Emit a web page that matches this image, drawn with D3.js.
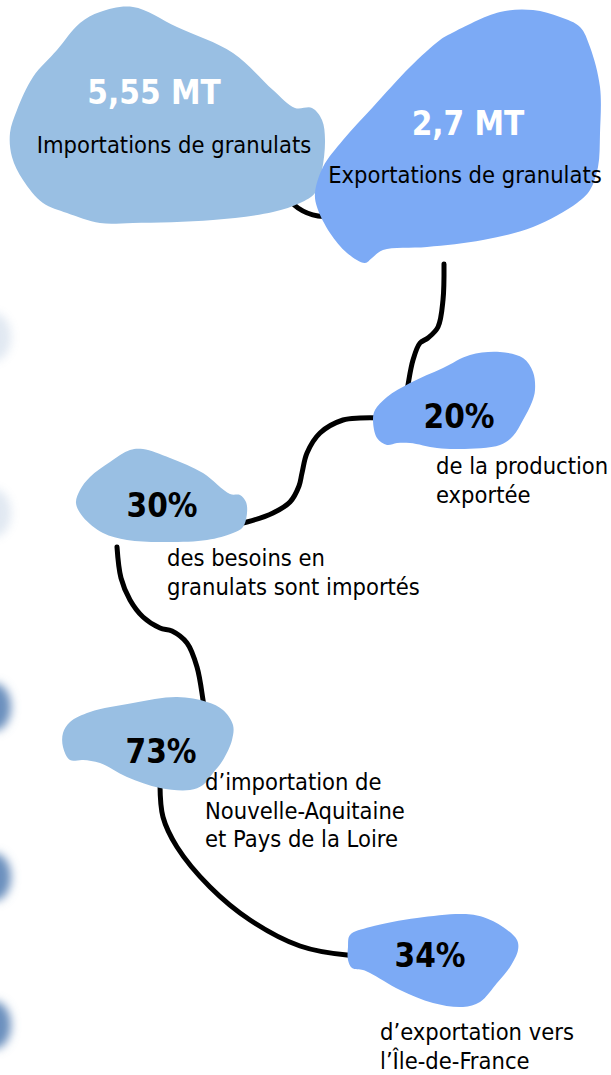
<!DOCTYPE html>
<html>
<head>
<meta charset="utf-8">
<script src="https://cdn.jsdelivr.net/npm/d3@7"></script>
<style>
  html, body { margin: 0; padding: 0; background: #fff; }
  svg { display: block; }
  text { font-family: "DejaVu Sans Condensed", "DejaVu Sans", sans-serif; font-stretch: condensed; }
</style>
</head>
<body>
<div id="chart"></div>
<script>
// figures shown in each blob
var values = ["5,55 MT", "2,7 MT", "20%", "30%", "73%", "34%"];
// flow type: import (light blue) or export (bright blue)
var flows = ["import", "export", "export", "import", "import", "export"];
// caption lines for every figure
var captions = [
    ["Importations de granulats"],
    ["Exportations de granulats"],
    ["de la production", "exportée"],
    ["des besoins en", "granulats sont importés"],
    ["d\u2019importation de", "Nouvelle-Aquitaine", "et Pays de la Loire"],
    ["d\u2019exportation vers", "l\u2019\u00CEle-de-France"]
];

var width = 611, height = 1075;

var color = d3.scaleOrdinal()
    .domain(["import", "export"])
    .range(["#99bfe3", "#7caaf5"]);

// hand drawn outlines of the blobs (layout only)
var blobShapes = [
    [[100,12],[133,7],[177,27],[233,53],[273,90],[295,108],[312,108],[322,120],[325,140],[322,170],[315,193],[300,203],[273,212],[213,220],[133,223],[100,223],[67,213],[43,203],[23,180],[12,157],[10,133],[17,110],[33,77],[57,50],[80,23]],
    [[452,33],[500,12],[533,10],[560,17],[580,27],[590,47],[600,87],[600,133],[598,167],[590,190],[577,203],[533,227],[483,240],[427,247],[383,250],[372,258],[365,263],[347,253],[330,233],[317,207],[315,193],[323,167],[343,140],[373,107],[410,67],[440,40]],
    [[470,355],[500,352],[523,358],[533,372],[535,390],[532,402],[523,420],[513,436],[500,445],[460,449],[437,448],[410,443],[397,443],[387,445],[377,438],[373,420],[375,410],[387,397],[410,383],[443,368]],
    [[130,450],[143,449],[170,458],[203,473],[230,494],[240,495],[246,502],[247,513],[243,527],[233,533],[207,540],[160,542],[127,540],[103,533],[83,517],[76,503],[80,490],[90,477],[110,462]],
    [[177,697],[207,702],[223,710],[233,725],[232,740],[223,760],[213,773],[203,785],[190,790],[160,788],[127,777],[100,763],[83,760],[70,760],[63,747],[63,733],[70,722],[90,712],[133,703]],
    [[350,935],[370,927],[417,918],[463,914],[483,917],[503,927],[517,940],[518,950],[510,967],[497,983],[480,1002],[463,1007],[433,1003],[400,990],[370,973],[363,970],[352,968],[348,960],[348,947]]
];

// figure and caption anchors (layout only)
var figurePos = [[154,104],[468,135],[459,428],[162,517],[161,763],[430,967]];
var captionPos = [[174,153,"middle"],[465,183,"middle"],[436,474,"start"],[167,566,"start"],[205,790,"start"],[380,1040,"start"]];

// connecting line pieces
var links = [
    [[283,192],[298,208],[318,216],[345,214]],
    [[444,264],[443,300],[438,327],[428,338],[420,343],[413,360],[408,385],[405,405]],
    [[385,418],[360,418],[343,420],[320,433],[307,453],[302,473],[299,486],[290,502],[273,513],[247,522],[232,525]],
    [[117,547],[121,578],[130,600],[143,617],[160,628],[172,631],[187,643],[197,667],[203,700],[205,715]],
    [[160,785],[163,817],[177,847],[210,887],[250,920],[300,946],[347,955],[360,955]]
];

// blurred shapes peeking in on the left edge
var edgeMarks = [[337,0.2],[513,0.2],[707,1],[877,1],[1025,1]];

var svg = d3.select("#chart").append("svg")
    .attr("width", width)
    .attr("height", height);

var defs = svg.append("defs");
defs.append("filter").attr("id", "blur")
    .attr("x", "-100%").attr("y", "-100%")
    .attr("width", "300%").attr("height", "300%")
    .append("feGaussianBlur").attr("stdDeviation", 5);

svg.append("g").selectAll("ellipse")
    .data(edgeMarks)
    .enter().append("ellipse")
    .attr("cx", -6)
    .attr("cy", function(d){ return d[0]; })
    .attr("rx", 17)
    .attr("ry", 24)
    .attr("fill", "#6a8fbd")
    .attr("opacity", function(d){ return d[1]; })
    .attr("filter", "url(#blur)");

var linkLine = d3.line().curve(d3.curveCatmullRom.alpha(0.5));

svg.append("g").selectAll("path")
    .data(links)
    .enter().append("path")
    .attr("d", linkLine)
    .attr("fill", "none")
    .attr("stroke", "#000")
    .attr("stroke-width", 5)
    .attr("stroke-linecap", "round");

var blobLine = d3.line().curve(d3.curveCatmullRomClosed.alpha(0.5));

svg.append("g").selectAll("path")
    .data(blobShapes)
    .enter().append("path")
    .attr("d", blobLine)
    .attr("fill", function(d, i){ return color(flows[i]); });

// figures
svg.append("g").selectAll("text")
    .data(values)
    .enter().append("text")
    .attr("x", function(d, i){ return figurePos[i][0]; })
    .attr("y", function(d, i){ return figurePos[i][1]; })
    .attr("text-anchor", "middle")
    .attr("font-size", 33)
    .attr("font-weight", "bold")
    .attr("fill", function(d, i){ return i < 2 ? "#fff" : "#000"; })
    .text(function(d){ return d; });

// captions
var cap = svg.append("g").selectAll("text")
    .data(captions)
    .enter().append("text")
    .attr("x", function(d, i){ return captionPos[i][0]; })
    .attr("y", function(d, i){ return captionPos[i][1]; })
    .attr("text-anchor", function(d, i){ return captionPos[i][2]; })
    .attr("font-size", 23.5)
    .attr("fill", "#000");

cap.selectAll("tspan")
    .data(function(d, i){ return d.map(function(t){ return {t: t, x: captionPos[i][0]}; }); })
    .enter().append("tspan")
    .attr("x", function(d){ return d.x; })
    .attr("dy", function(d, j){ return j === 0 ? 0 : 28.5; })
    .text(function(d){ return d.t; });
</script>
</body>
</html>
